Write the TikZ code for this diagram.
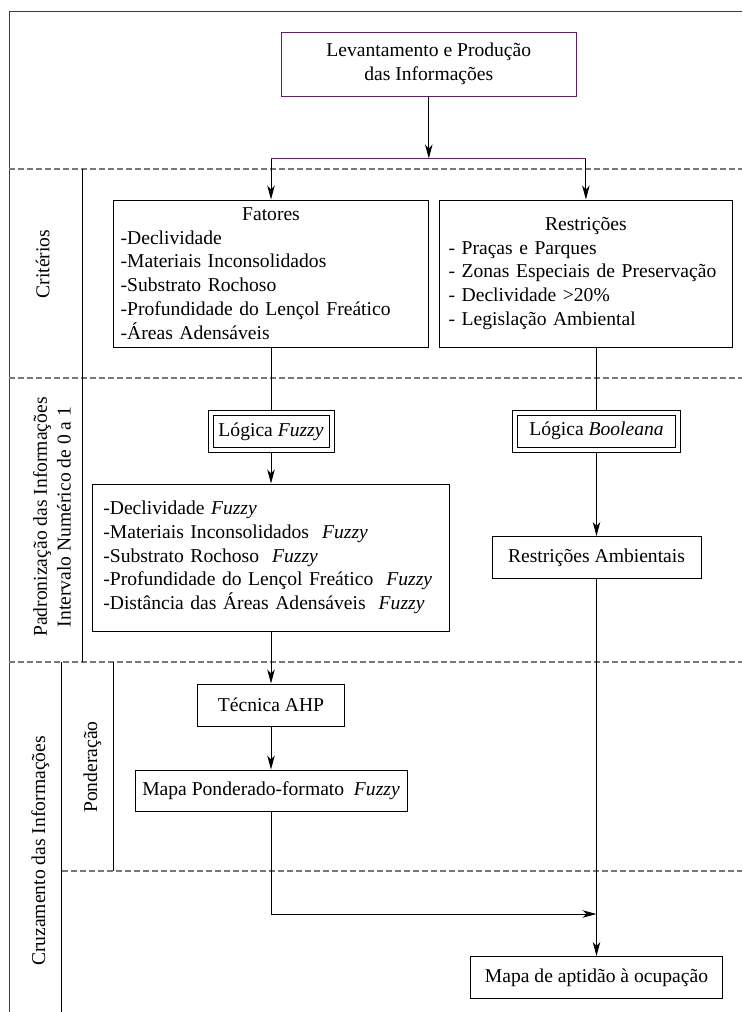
\documentclass[tikz,border=0pt]{standalone}
\usepackage{fontspec}
\setmainfont{Liberation Serif}
\usetikzlibrary{positioning, arrows.meta}
\definecolor{boxpurple}{RGB}{96,32,96}
\definecolor{dashgray}{RGB}{120,120,120}
\definecolor{framegray}{RGB}{60,60,60}
\tikzset{
    block/.style={
        draw, line width = 1pt,
        inner sep = 0pt,
        align = center,
        font = \fontsize{19.6}{23.8}\selectfont
    },
    listbox/.style = {block, align = left, minimum height = 147pt},
    logic/.style = {block, double, double distance = 4pt, outer sep = 3pt, minimum height = 37pt},
    lane/.style = {font = \fontsize{19.6}{23.8}\selectfont, rotate = 90, align = center},
    divider/.style = {dashgray, line width = 1.2pt, dash pattern = on 6pt off 3pt},
    line/.style = {line width = 1pt, -{Stealth[length = 14pt, width = 7.5pt, inset = 4pt]}}
}

\begin{document}
\begin{tikzpicture}[x = 1pt, y = -1pt]

    \useasboundingbox (0,0) rectangle (742,1012);

    % frame and lanes
    \draw[framegray, line width = 1pt] (742,11) -- (9,11) -- (9,1012);
    \draw[divider] (9,169) -- (742,169);
    \draw[divider] (9,378) -- (742,378);
    \draw[divider] (9,662) -- (742,662);
    \draw[divider] (61.5,871) -- (742,871);
    \draw[line width = 1pt] (82.8,169) -- (82.8,662);
    \draw[line width = 1pt] (61.5,662) -- (61.5,1012);
    \draw[line width = 1pt] (113.6,662) -- (113.6,871);

    \node[lane] (criterios) at (42.6,264) {Critérios};
    \node[lane] (padron) at (52,517) {Padronização das Informações\\Intervalo Numérico de 0 a 1};
    \node[lane] (cruzam) at (40.2,851) {Cruzamento das Informações};
    \node[lane] (ponder) at (92.3,767) {Ponderação};

    % boxes
    \node[block, draw = boxpurple, minimum width = 294.4pt, minimum height = 64pt] (top) at (428.8,64)
        {Levantamento e Produção\\das Informações};
    \node[listbox, minimum width = 314.7pt, text width = 300.7pt, inner xsep = 7pt] (fatores) at (271,273.5)
        {\makebox[\linewidth]{Fatores}\\-Declividade\\-Materiais Inconsolidados\\-Substrato Rochoso\\-Profundidade do Lençol Freático\\-Áreas Adensáveis};
    \node[listbox, minimum width = 293.4pt, text width = 274.6pt, inner xsep = 9.4pt] (restr) at (585.9,273.5)
        {\makebox[\linewidth]{Restrições}\\- Praças e Parques\\- Zonas Especiais de Preservação\\- Declividade >20\%\\- Legislação Ambiental};
    \node[logic, minimum width = 121pt, below = 62.5pt of fatores] (fuzzy) {Lógica \textit{Fuzzy}};
    \node[logic, minimum width = 163pt] (booleana) at (596.5,431) {Lógica \textit{Booleana}};
    \node[listbox, minimum width = 357.3pt, text width = 335.3pt, inner xsep = 11pt, below = 30.5pt of fuzzy] (fuzzylist)
        {-Declividade \textit{Fuzzy}\\-Materiais Inconsolidados~ \textit{Fuzzy}\\-Substrato Rochoso~ \textit{Fuzzy}\\-Profundidade do Lençol Freático~ \textit{Fuzzy}\\-Distância das Áreas Adensáveis~ \textit{Fuzzy}};
    \node[block, minimum width = 209pt, minimum height = 42pt, below = 83.5pt of booleana] (ambient) {Restrições Ambientais};
    \node[block, minimum width = 147pt, minimum height = 42pt, below = 52pt of fuzzylist] (ahp) {Técnica AHP};
    \node[block, minimum width = 272pt, minimum height = 41pt, below = 43pt of ahp] (pond) {Mapa Ponderado-formato~ \textit{Fuzzy}};
    \node[block, minimum width = 252.7pt, minimum height = 42pt, below = 377pt of ambient] (aptidao) {Mapa de aptidão à ocupação};

    % connectors
    \path (top.south) ++(0,62) coordinate (split);
    \draw[line] (top.south) -- (split);
    \draw[line] (fatores.north |- split) -- (fatores.north);
    \draw[line] (restr.north |- split) -- (restr.north);
    \draw[boxpurple, line width = 1pt] (fatores.north |- split) -- (restr.north |- split);
    \draw[line width = 1pt] (fatores.south) -- (fuzzy.north);
    \draw[line width = 1pt] (booleana.north |- restr.south) -- (booleana.north);
    \draw[line] (fuzzy.south) -- (fuzzylist.north);
    \draw[line] (booleana.south) -- (ambient.north);
    \draw[line] (fuzzylist.south) -- (ahp.north);
    \draw[line] (ahp.south) -- (pond.north);
    \path (ambient.south) ++(0,335) coordinate (join);
    \draw[line] (pond.south) |- (join);
    \draw[line] (ambient.south) -- (aptidao.north);

\end{tikzpicture}
\end{document}
